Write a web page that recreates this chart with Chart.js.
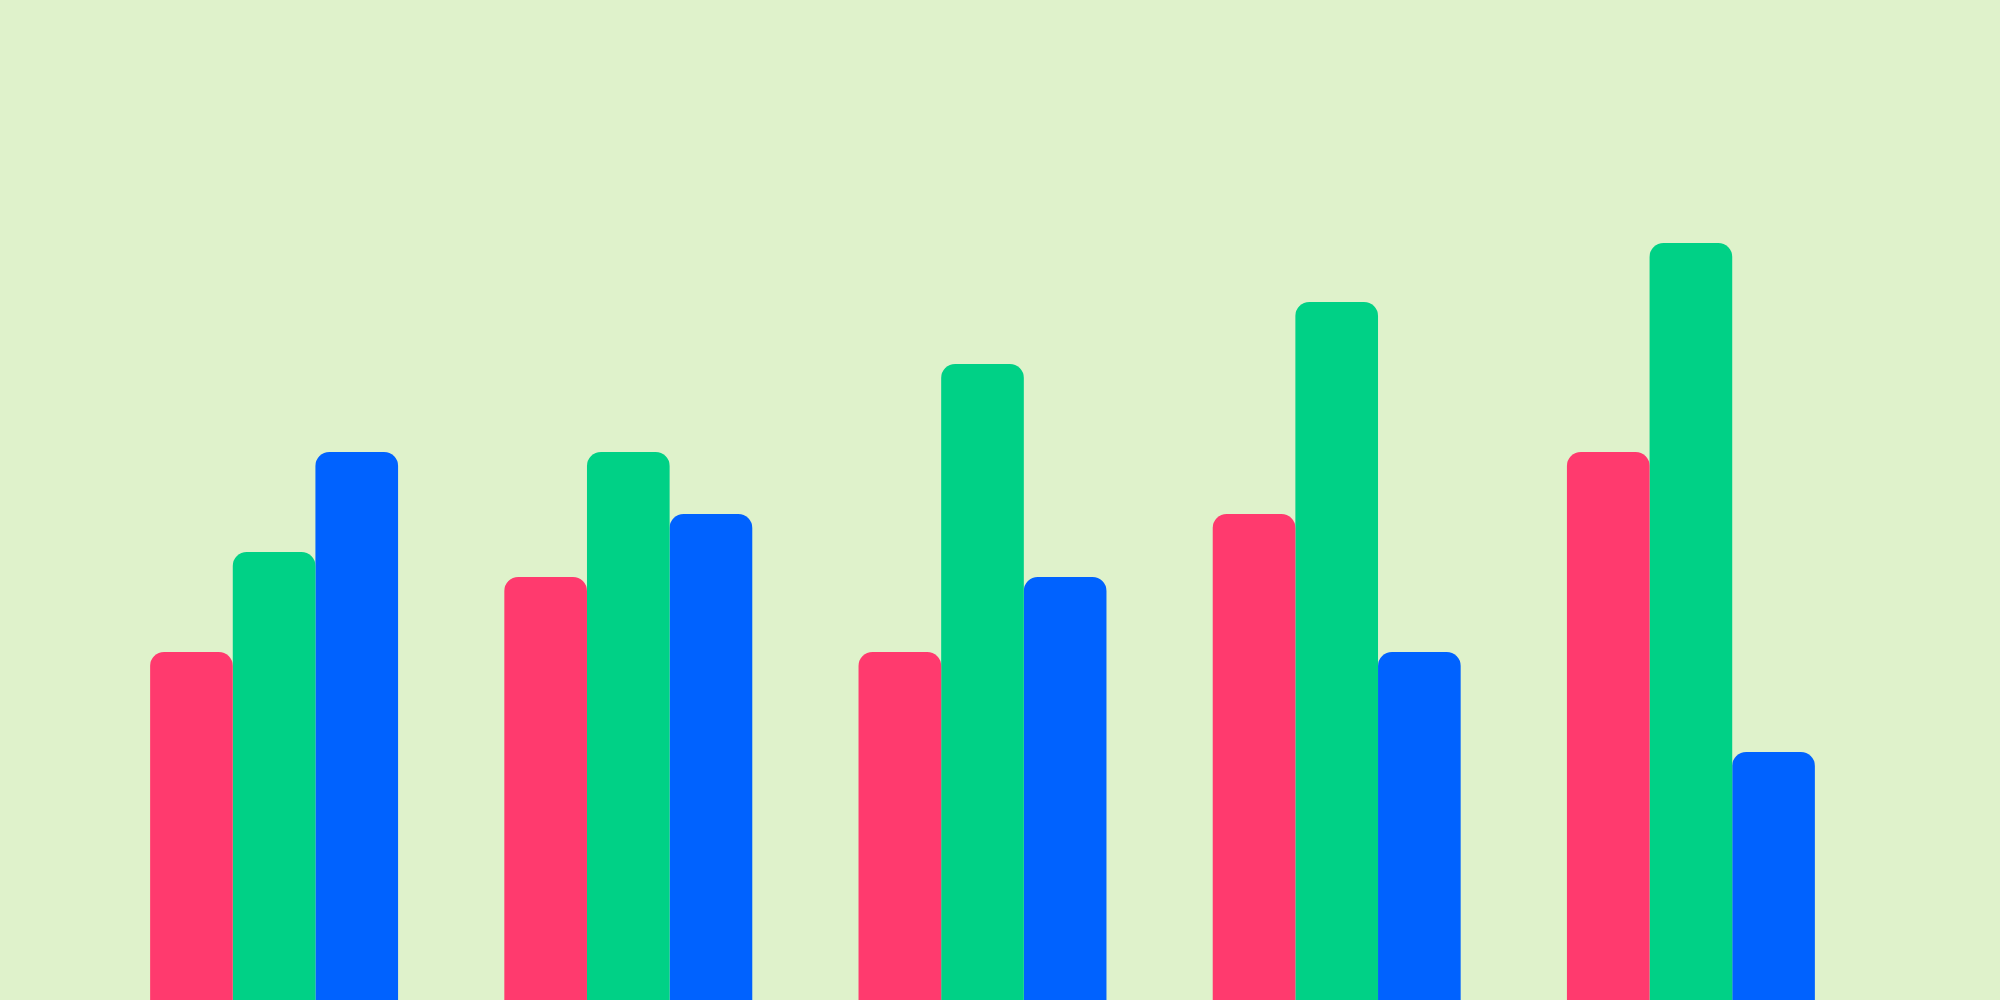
<!DOCTYPE html>
<html>
<head>
<meta charset="utf-8">
<title>Bars</title>
<script src="https://cdn.jsdelivr.net/npm/chart.js@4.4.0/dist/chart.umd.min.js"></script>
<style>
  html, body { margin: 0; padding: 0; background: #dff2cb; }
  #wrap { width: 2000px; height: 1000px; }
</style>
</head>
<body>
<div id="wrap"><canvas id="myChart"></canvas></div>
<script>
'use strict';
const categories = ['A', 'B', 'C', 'D', 'E'];
const redValues = [34.8, 42.3, 34.8, 48.6, 54.8];
const greenValues = [44.8, 54.8, 63.6, 69.8, 75.7];
const blueValues = [54.8, 48.6, 42.3, 34.8, 24.8];

function chartRender() {
  let ctx = document.getElementById('myChart').getContext('2d');
  let chart = new Chart(ctx, {
    type: 'bar',
    data: {
      labels: categories,
      datasets: [{
        label: 'Red',
        backgroundColor: '#ff3a6e',
        data: redValues
      },
      {
        label: 'Green',
        backgroundColor: '#00d186',
        data: greenValues
      },
      {
        label: 'Blue',
        backgroundColor: '#0062ff',
        data: blueValues
      }]
    },
    options: {
      responsive: true,
      maintainAspectRatio: false,
      animation: false,
      layout: { padding: { left: 97, right: 132, top: 0, bottom: 0 } },
      datasets: {
        bar: {
          categoryPercentage: 0.7,
          barPercentage: 1.0,
          borderRadius: 14,
          borderSkipped: 'start'
        }
      },
      plugins: {
        legend: { display: false },
        tooltip: { enabled: false }
      },
      scales: {
        x: { display: false },
        y: { display: false, min: 0, max: 100 }
      }
    }
  });
}
chartRender();
</script>
</body>
</html>
